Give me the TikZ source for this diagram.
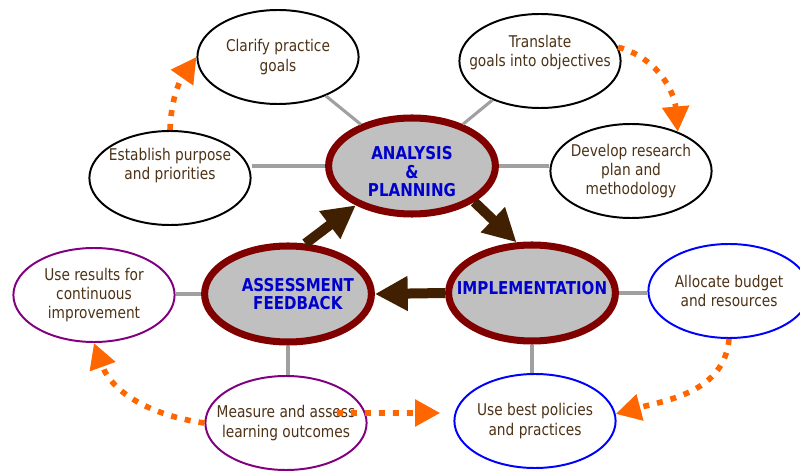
\documentclass[tikz,border=0pt]{standalone}
\usepackage{fontspec}
\setmainfont{DejaVu Sans}[FakeStretch=0.85]
\usetikzlibrary{shapes.geometric, arrows.meta}
\definecolor{txtbrown}{RGB}{77, 50, 22}
\definecolor{corefill}{RGB}{192, 192, 192}
\definecolor{corerim}{RGB}{128, 0, 0}
\definecolor{coretext}{RGB}{0, 0, 204}
\definecolor{spokegray}{RGB}{160, 160, 160}
\definecolor{flowbrown}{RGB}{64, 32, 0}
\definecolor{looporange}{RGB}{255, 102, 0}
\definecolor{evalpurple}{RGB}{128, 0, 128}
\definecolor{implblue}{RGB}{0, 0, 255}

\begin{document}
\begin{tikzpicture}[
    core/.style={ellipse, draw=corerim, line width=5pt, fill=corefill,
                 minimum width=4.17cm, minimum height=2.4cm, inner xsep=-0.8cm, inner ysep=0pt,
                 align=center, text=coretext, font=\fontsize{12.6}{13.3}\selectfont\bfseries},
    task/.style={ellipse, draw=black, line width=1.4pt, fill=white,
                 minimum width=4.03cm, minimum height=2.35cm, inner xsep=-0.6cm, inner ysep=0pt,
                 align=center, text=txtbrown, font=\fontsize{11.5}{13.6}\selectfont},
    spoke/.style={draw=spokegray, line width=2.2pt},
    mainflow/.style={draw=flowbrown, line width=0.25cm, -{Triangle[length=0.82cm, width=0.82cm]}},
    loopflow/.style={draw=looporange, line width=0.14cm, dash pattern=on 0.15cm off 0.2cm,
                     -{Triangle[length=0.63cm, width=0.65cm]}}]
    \useasboundingbox (0, 0) rectangle (20, 11.8);

    % Core stages
    \node[core] (analysis) at (10.3, 7.65) {\rule{0pt}{17.5pt}ANALYSIS\\\&\\PLANNING};
    \node[core] (assessment) at (7.2, 4.45) {\hspace*{14pt}ASSESSMENT\\\hspace*{14pt}FEEDBACK};
    \node[core, text depth=7pt] (implementation) at (13.3, 4.475) {IMPLEMENTATION};

    % Tasks
    \node[task] (clarify) at (6.95, 10.375) {Clarify practice\\goals};
    \node[task, text depth=19.5pt] (establish) at (4.25, 7.35) {Establish purpose\\and priorities};
    \node[task, text depth=14pt] (translate) at (13.5, 10.275) {Translate\\goals into objectives};
    \node[task] (develop) at (15.775, 7.525) {Develop research\\plan and\\methodology};
    \node[task, draw=evalpurple] (useresults) at (2.35, 4.425) {Use results for\\continuous\\improvement};
    \node[task, draw=evalpurple] (measure) at (7.15, 1.225) {Measure and assess\\learning outcomes};
    \node[task, draw=implblue] (allocate) at (18.225, 4.525) {Allocate budget\\and resources};
    \node[task, draw=implblue] (usebest) at (13.375, 1.275) {Use best policies\\and practices};

    % Spokes
    \draw[spoke] (clarify) -- (analysis);
    \draw[spoke] (translate) -- (analysis);
    \draw[spoke] (analysis.west) -- (analysis.west -| establish.east);
    \draw[spoke] (analysis.east) -- (analysis.east -| develop.west);
    \draw[spoke] (assessment.west) -- (assessment.west -| useresults.east);
    \draw[spoke] (assessment.south) -- (assessment.south |- measure.north);
    \draw[spoke] (implementation.east) -- (implementation.east -| allocate.west);
    \draw[spoke] (implementation.south) -- (implementation.south |- usebest.north);

    % Cycle
    \draw[mainflow] (assessment.71) -- (analysis.215);
    \draw[mainflow] (analysis.330) -- (implementation.107);
    \draw[mainflow] (implementation.west) -- (assessment.east);

    % Dotted links
    \draw[loopflow] (establish.north) to[out=88, in=235] (clarify.west);
    \draw[loopflow] (translate.10) to[out=-15, in=95] (develop.40);
    \draw[loopflow] (measure.west) to[out=172, in=-70] (useresults.south);
    \draw[loopflow] (allocate.south) to[out=-95, in=15] (usebest.5);
    \draw[loopflow] ([xshift=1.27cm, yshift=0.25cm]measure.center) -- ([xshift=-0.33cm, yshift=0.2cm]usebest.west);
\end{tikzpicture}
\end{document}
